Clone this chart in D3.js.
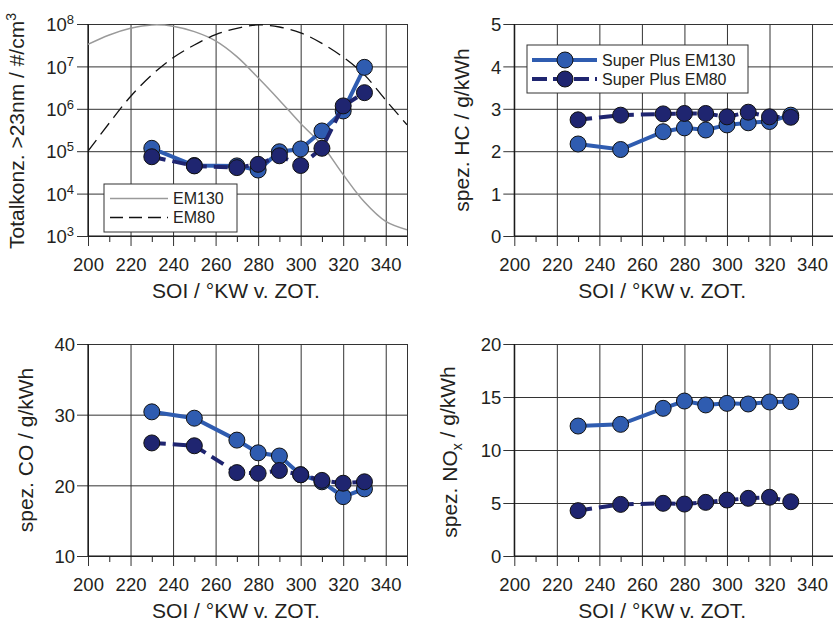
<!DOCTYPE html>
<html><head><meta charset="utf-8">
<script src="https://cdn.jsdelivr.net/npm/d3@7"></script>
<style>
body{margin:0;background:#fff;}
svg{display:block;font-family:"Liberation Sans",Arial,sans-serif;}
</style></head>
<body>
<svg id="chart" width="833" height="624"></svg>
<script>
// ---------- data ----------
const soi = [230, 250, 270, 280, 290, 300, 310, 320, 330];
const pnEM130 = [1.17e5, 4.6e4, 4.5e4, 3.6e4, 9.7e4, 1.13e5, 3.0e5, 8.9e5, 9.5e6];
const pnEM80  = [7.4e4, 4.5e4, 4.1e4, 4.9e4, 7.8e4, 4.6e4, 1.17e5, 1.17e6, 2.4e6];
const hcEM130 = [2.17, 2.04, 2.46, 2.55, 2.50, 2.62, 2.67, 2.70, 2.85];
const hcEM80  = [2.74, 2.85, 2.88, 2.89, 2.89, 2.81, 2.92, 2.81, 2.80];
const coEM130 = [30.4, 29.5, 26.4, 24.6, 24.15, 21.5, 20.5, 18.4, 19.5];
const coEM80  = [26.0, 25.6, 21.8, 21.7, 22.1, 21.5, 20.7, 20.3, 20.5];
const noxEM130 = [12.26, 12.42, 13.93, 14.62, 14.25, 14.40, 14.34, 14.53, 14.56];
const noxEM80  = [4.28, 4.87, 4.97, 4.90, 5.06, 5.28, 5.44, 5.54, 5.12];

// reference curves (top-left panel)
const curveSoi = [200,210,220,230,240,250,260,270,280,290,300,310,320,330,340,350];
const curveEM130 = [3.3e7,5.5e7,7.9e7,9.5e7,8.9e7,6.6e7,4.0e7,1.7e7,5.4e6,1.6e6,4.5e5,1.4e5,2.8e4,6.3e3,2.2e3,1.4e3];
const curveEM80  = [1.0e5,4.6e5,1.95e6,6.3e6,1.6e7,3.2e7,5.6e7,7.9e7,9.5e7,8.5e7,6.2e7,3.5e7,1.65e7,6.3e6,1.6e6,4.2e5];

const xMajor = [200, 220, 240, 260, 280, 300, 320, 340, 350];
const xMinor = [210, 230, 250, 270, 290, 310, 330];
const pnTicks = [1e3, 1e4, 1e5, 1e6, 1e7, 1e8];
const hcTicks = [0, 1, 2, 3, 4, 5];
const coTicks = [10, 20, 30, 40];
const noxTicks = [0, 5, 10, 15, 20];

const seriesNames = ["Super Plus EM130", "Super Plus EM80"];
const curveNames = ["EM130", "EM80"];

// ---------- styles ----------
const C130 = "#2f5cb0", C80 = "#1f2570";
const TXT = "#231f20";
const W = 319, H = 212;

const svg = d3.select("#chart");

function panel(cfg) {
  const g = svg.append("g").attr("transform", `translate(${cfg.x0},${cfg.y0})`);
  const x = d3.scaleLinear().domain([200, 350]).range([0, W]);
  const y = cfg.log ? d3.scaleLog().domain(cfg.domain).range([H, 0])
                    : d3.scaleLinear().domain(cfg.domain).range([H, 0]);

  // vertical grid + x labels
  const gx = g.append("g").attr("transform", `translate(0,${H})`)
    .call(d3.axisBottom(x).tickValues(xMajor).tickSize(0)
      .tickFormat(d => d === 350 ? "" : d));
  gx.select(".domain").remove();
  gx.selectAll(".tick line").attr("y1", 10).attr("y2", -H)
    .attr("stroke", "#333").attr("stroke-width", 1);
  gx.selectAll(".tick text").attr("y", 35).attr("dy", null)
    .attr("font-size", 18.5).attr("fill", TXT).attr("font-family", null);

  const gm = g.append("g").attr("transform", `translate(0,${H})`)
    .call(d3.axisBottom(x).tickValues(xMinor).tickSize(6).tickFormat(""));
  gm.select(".domain").remove();
  gm.selectAll(".tick line").attr("stroke", "#222");

  // horizontal grid + y labels
  const gy = g.append("g")
    .call(d3.axisLeft(y).tickValues(cfg.ticks).tickSize(0)
      .tickFormat(cfg.log ? (() => "") : d3.format("d")));
  gy.select(".domain").remove();
  gy.selectAll(".tick line").attr("x1", -11).attr("x2", W)
    .attr("stroke", "#333").attr("stroke-width", 1);
  const yt = gy.selectAll(".tick text").attr("x", -13).attr("dy", "0.36em")
    .attr("font-size", 18.5).attr("fill", TXT).attr("font-family", null);
  if (cfg.log) {
    yt.each(function(d) {
      const t = d3.select(this).attr("x", -14);
      t.append("tspan").text("10");
      t.append("tspan").attr("font-size", 13).attr("dy", "-0.55em")
        .text(Math.round(Math.log10(d)));
    });
  }

  // axis frame lines
  g.append("line").attr("x1", 0).attr("x2", 0).attr("y1", 0).attr("y2", H)
    .attr("stroke", "#111").attr("stroke-width", 1.2);
  g.append("line").attr("x1", 0).attr("x2", W).attr("y1", H).attr("y2", H)
    .attr("stroke", "#111").attr("stroke-width", 1.2);

  // titles
  g.append("text").attr("x", 148).attr("y", H + 62).attr("text-anchor", "middle")
    .attr("font-size", 21).attr("fill", TXT).text("SOI / °KW v. ZOT.");
  const yl = g.append("text").attr("text-anchor", "middle")
    .attr("transform", `translate(${cfg.ylx},${cfg.yly}) rotate(-90)`)
    .attr("font-size", 21).attr("fill", TXT);
  cfg.ylabel(yl);

  const clipId = "clip" + cfg.id;
  g.append("clipPath").attr("id", clipId).append("rect")
    .attr("x", 0).attr("y", 0).attr("width", W).attr("height", H);

  return { g, x, y, clipId };
}

function drawSeries(p, vals, color, dashed) {
  const pts = soi.map((s, i) => [s, vals[i]]);
  const line = d3.line().x(d => p.x(d[0])).y(d => p.y(d[1]));
  p.g.append("path").datum(pts).attr("d", line).attr("fill", "none")
    .attr("stroke", color).attr("stroke-width", 4)
    .attr("stroke-dasharray", dashed ? "14,7" : null);
  p.g.append("g").selectAll("circle").data(pts).join("circle")
    .attr("cx", d => p.x(d[0])).attr("cy", d => p.y(d[1])).attr("r", 8)
    .attr("fill", color).attr("stroke", "#111").attr("stroke-width", 1);
}

// ---------- panels ----------
const pTL = panel({ id: "tl", x0: 88, y0: 24, log: true, domain: [1e3, 1e8], ticks: pnTicks,
  ylx: -64, yly: 107,
  ylabel: t => { t.append("tspan").text("Totalkonz. >23nm / #/cm");
                 t.append("tspan").attr("font-size", 14).attr("dy", "-0.6em").text("3"); } });
const pTR = panel({ id: "tr", x0: 514.3, y0: 24, log: false, domain: [0, 5], ticks: hcTicks,
  ylx: -45, yly: 106, ylabel: t => t.text("spez. HC / g/kWh") });
const pBL = panel({ id: "bl", x0: 88, y0: 344, log: false, domain: [10, 40], ticks: coTicks,
  ylx: -55, yly: 106, ylabel: t => t.text("spez. CO / g/kWh") });
const pBR = panel({ id: "br", x0: 514.3, y0: 344, log: false, domain: [0, 20], ticks: noxTicks,
  ylx: -57, yly: 108,
  ylabel: t => { t.append("tspan").text("spez. NO");
                 t.append("tspan").attr("font-size", 14).attr("dy", "0.3em").text("x");
                 t.append("tspan").attr("dy", "-0.3em").text(" / g/kWh"); } });

// top-left reference curves
const cl = d3.line().curve(d3.curveCatmullRom.alpha(0.5))
  .x(d => pTL.x(d[0])).y(d => pTL.y(d[1]));
const cg = pTL.g.append("g").attr("clip-path", `url(#${pTL.clipId})`);
cg.append("path").datum(curveSoi.map((s, i) => [s, curveEM130[i]])).attr("d", cl)
  .attr("fill", "none").attr("stroke", "#9a9a9a").attr("stroke-width", 1.5);
cg.append("path").datum(curveSoi.map((s, i) => [s, curveEM80[i]])).attr("d", cl)
  .attr("fill", "none").attr("stroke", "#111").attr("stroke-width", 1.3)
  .attr("stroke-dasharray", "14,7");

// series
drawSeries(pTL, pnEM130, C130, false);
drawSeries(pTL, pnEM80, C80, true);
drawSeries(pTR, hcEM130, C130, false);
drawSeries(pTR, hcEM80, C80, true);
drawSeries(pBL, coEM130, C130, false);
drawSeries(pBL, coEM80, C80, true);
drawSeries(pBR, noxEM130, C130, false);
drawSeries(pBR, noxEM80, C80, true);

// legend top-left (curves)
{
  const lg = svg.append("g").attr("transform", "translate(104,184)");
  lg.append("rect").attr("x", 0).attr("y", 0).attr("width", 133).attr("height", 48)
    .attr("fill", "#fff").attr("stroke", "#333").attr("stroke-width", 1);
  const rows = [14.5, 33.5];
  lg.append("line").attr("x1", 6).attr("x2", 64).attr("y1", rows[0]).attr("y2", rows[0])
    .attr("stroke", "#9a9a9a").attr("stroke-width", 1.5);
  lg.append("line").attr("x1", 6).attr("x2", 64).attr("y1", rows[1]).attr("y2", rows[1])
    .attr("stroke", "#111").attr("stroke-width", 1.3).attr("stroke-dasharray", "13,6");
  lg.selectAll("text").data(curveNames).join("text")
    .attr("x", 69).attr("y", (d, i) => rows[i]).attr("dy", "0.35em")
    .attr("font-size", 16).attr("fill", TXT).text(d => d);
}
// legend top-right (series)
{
  const lg = svg.append("g").attr("transform", "translate(527,45)");
  lg.append("rect").attr("x", 0).attr("y", 0).attr("width", 221).attr("height", 48)
    .attr("fill", "#fff").attr("stroke", "#333").attr("stroke-width", 1);
  const cols = [C130, C80];
  seriesNames.forEach((name, i) => {
    const yy = 15 + i * 19;
    lg.append("line").attr("x1", 5).attr("x2", 70).attr("y1", yy).attr("y2", yy)
      .attr("stroke", cols[i]).attr("stroke-width", 4)
      .attr("stroke-dasharray", i === 1 ? "15,6" : null);
    lg.append("circle").attr("cx", 38).attr("cy", yy).attr("r", 8)
      .attr("fill", cols[i]).attr("stroke", "#111").attr("stroke-width", 1);
    lg.append("text").attr("x", 75).attr("y", yy).attr("dy", "0.36em")
      .attr("font-size", 16).attr("fill", TXT).text(name);
  });
}
</script>
</body></html>
